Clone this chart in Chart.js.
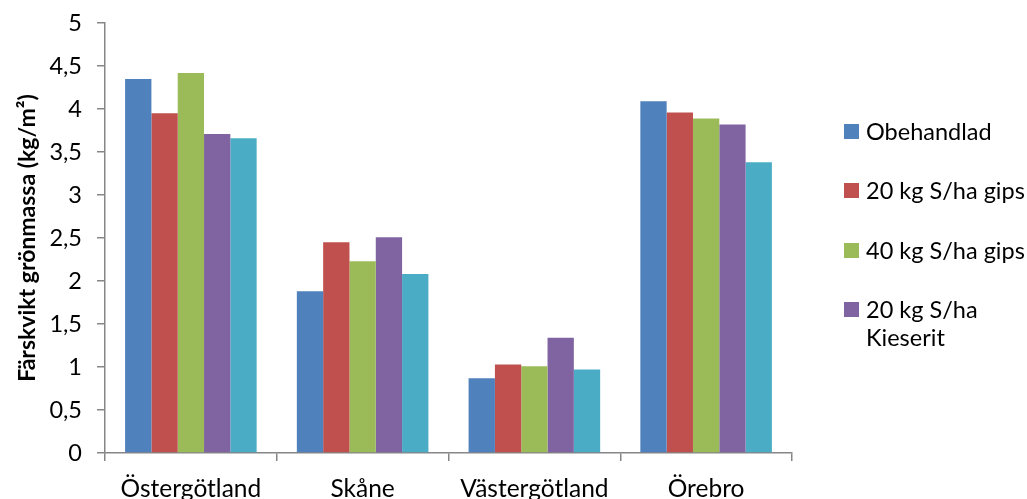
<!DOCTYPE html>
<html lang="sv">
<head>
<meta charset="utf-8">
<script src="https://cdn.jsdelivr.net/npm/chart.js@4/dist/chart.umd.min.js"></script>
<style>
  html, body { margin: 0; padding: 0; background: #fff; }
  #wrap { position: relative; width: 1027px; height: 499px; }
  #chart { position: absolute; left: 0; top: 0; }
  #legend { position: absolute; left: 844px; top: 0; font-family: Lato, sans-serif; font-size: 23.5px; color: #000; }
  .item { position: absolute; left: 0; white-space: nowrap; }
  .swatch { position: absolute; left: 0; width: 15px; height: 15px; }
  .label { position: absolute; left: 22px; line-height: 28px; }
</style>
</head>
<body>
<div id="wrap">
  <canvas id="chart" width="1027" height="499"></canvas>
  <div id="legend"></div>
</div>
<script>
// Regions (x categories)
const regions = ['Östergötland', 'Skåne', 'Västergötland', 'Örebro'];

// Treatments, in drawing order
const seriesNames = ['Obehandlad', '20 kg S/ha gips', '40 kg S/ha gips', '20 kg S/ha Kieserit', '40 kg S/ha Kieserit'];
const seriesColors = ['#4F81BD', '#C0504D', '#9BBB59', '#8064A2', '#4BACC6'];

// Fresh weight green mass, kg/m², per region
const obehandlad   = [4.35, 1.88, 0.87, 4.09];
const gips20       = [3.95, 2.45, 1.03, 3.96];
const gips40       = [4.42, 2.23, 1.01, 3.89];
const kieserit20   = [3.71, 2.51, 1.34, 3.82];
const kieserit40   = [3.66, 2.08, 0.97, 3.38];

// Y axis ticks
const yMin = 0, yMax = 5, yStep = 0.5;

// Legend entries shown beside the chart (lines per entry)
const legendEntries = [
  { lines: ['Obehandlad'], color: seriesColors[0] },
  { lines: ['20 kg S/ha gips'], color: seriesColors[1] },
  { lines: ['40 kg S/ha gips'], color: seriesColors[2] },
  { lines: ['20 kg S/ha', 'Kieserit'], color: seriesColors[3] }
];

const seriesValues = [obehandlad, gips20, gips40, kieserit20, kieserit40];
const axisGray = '#868686';
const FONT = 'Lato';

const datasets = seriesValues.map((vals, i) => ({
  label: seriesNames[i],
  data: vals,
  backgroundColor: seriesColors[i],
  borderWidth: 0,
  categoryPercentage: 0.766,
  barPercentage: 1.0
}));

new Chart(document.getElementById('chart'), {
  type: 'bar',
  data: { labels: regions, datasets },
  options: {
    responsive: false,
    animation: false,
    devicePixelRatio: 1,
    layout: { padding: { left: 0, right: 235, top: 23, bottom: 0 } },
    plugins: { legend: { display: false }, tooltip: { enabled: false } },
    scales: {
      x: {
        grid: { display: true, drawOnChartArea: false, drawTicks: true, tickLength: 8, color: axisGray, lineWidth: 1.5 },
        border: { color: axisGray, width: 1.5 },
        ticks: { color: '#000', font: { family: FONT, size: 24.5 }, padding: 13, maxRotation: 0 },
        afterFit: (axis) => { axis.height = 46; axis.paddingLeft = 0; axis.paddingRight = 0; }
      },
      y: {
        min: yMin,
        max: yMax,
        grid: { display: true, drawOnChartArea: false, drawTicks: true, tickLength: 8, color: axisGray, lineWidth: 1.5 },
        border: { color: axisGray, width: 1.5 },
        ticks: {
          stepSize: yStep,
          color: '#000',
          font: { family: FONT, size: 23.5 },
          padding: 15,
          callback: (v) => String(v).replace('.', ',')
        },
        title: {
          display: true,
          text: 'Färskvikt grönmassa (kg/m²)',
          color: '#000',
          font: { family: FONT, size: 23, weight: 'bold' },
          padding: { top: 14, bottom: 0 }
        },
        afterFit: (axis) => { axis.width = 105; axis.paddingTop = 0; axis.paddingBottom = 0; }
      }
    }
  }
});

// Legend beside the plot
const legendEl = document.getElementById('legend');
const itemTops = [131, 190, 250, 309];
legendEntries.forEach((entry, i) => {
  const item = document.createElement('div');
  item.className = 'item';
  item.style.top = itemTops[i] + 'px';
  const sw = document.createElement('div');
  sw.className = 'swatch';
  sw.style.background = entry.color;
  sw.style.top = '-7.5px';
  const lab = document.createElement('div');
  lab.className = 'label';
  lab.style.top = '-14px';
  lab.innerHTML = entry.lines.join('<br>');
  item.appendChild(sw);
  item.appendChild(lab);
  legendEl.appendChild(item);
});
</script>
</body>
</html>
